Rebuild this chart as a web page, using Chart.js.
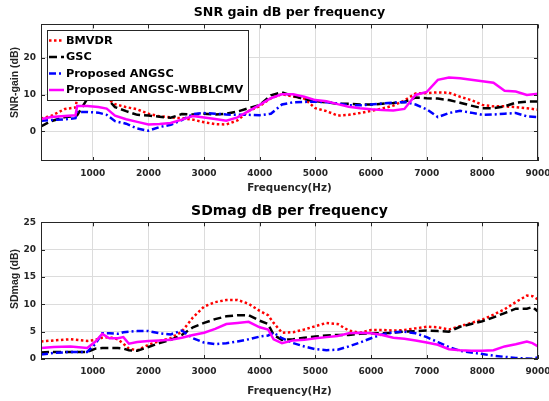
<!DOCTYPE html>
<html>
<head>
<meta charset="utf-8">
<script src="https://cdn.jsdelivr.net/npm/chart.js@4.4.1/dist/chart.umd.min.js"></script>
<style>
  html, body { margin: 0; padding: 0; background: #fff; overflow: hidden; }
  #top { position: absolute; left: 0; top: 0; width: 549px; height: 200px; }
  #bot { position: absolute; left: 0; top: 200px; width: 549px; height: 201px; }
</style>
</head>
<body>
<div id="top"><canvas id="snr" width="549" height="200"></canvas></div>
<div id="bot"><canvas id="sd" width="549" height="201"></canvas></div>
<script>
// ===== data =====
const seriesNames = ["BMVDR", "GSC", "Proposed ANGSC", "Proposed ANGSC-WBBLCMV"];
const freqTicks = [1000, 2000, 3000, 4000, 5000, 6000, 7000, 8000, 9000];
const snrTicks = [0, 10, 20];
const sdTicks = [0, 5, 10, 15, 20, 25];

// SNR gain (top)
const snrFreq = [70, 250, 500, 690, 720, 900, 1100, 1250, 1400,
  1600, 1800, 2000, 2200, 2400, 2600, 2800, 3000, 3200, 3400,
  3600, 3800, 4000, 4200, 4400, 4600, 4800, 5000, 5200, 5400,
  5600, 5800, 6000, 6200, 6400, 6600, 6800, 7000, 7200, 7400,
  7600, 7800, 8000, 8200, 8400, 8600, 8800, 9000];
const snrBmvdr = [3.5, 4.2, 6.1, 6.5, 9.0, 8.8, 9.2, 9.0, 7.4,
  6.6, 6.0, 4.8, 4.1, 3.8, 3.6, 3.2, 2.5, 2.0, 1.9,
  3.0, 5.5, 6.9, 9.0, 10.1, 9.5, 8.9, 6.3, 5.5, 4.3,
  4.5, 5.0, 5.6, 6.2, 7.0, 8.4, 10.3, 10.4, 10.6, 10.5,
  9.4, 8.5, 7.2, 6.8, 6.8, 6.6, 6.3, 5.9];
const snrGsc = [1.4, 2.8, 3.9, 4.2, 4.4, 8.8, 9.6, 9.0, 6.6,
  5.5, 4.5, 4.3, 4.0, 3.7, 4.7, 4.6, 4.8, 4.6, 4.8,
  5.4, 6.3, 7.2, 9.8, 10.6, 9.6, 8.8, 8.2, 7.9, 7.5,
  7.5, 7.3, 7.3, 7.5, 7.7, 8.0, 9.2, 9.0, 8.9, 8.5,
  7.8, 7.0, 6.3, 6.3, 6.8, 7.8, 8.1, 8.1];
const snrAngsc = [2.9, 3.1, 3.3, 3.6, 5.3, 5.3, 5.1, 4.5, 2.8,
  2.1, 0.8, 0.2, 1.2, 1.8, 3.1, 4.7, 5.0, 4.8, 4.6,
  4.5, 4.5, 4.4, 4.8, 7.3, 7.9, 8.0, 8.1, 7.9, 7.6,
  7.1, 7.1, 7.3, 7.6, 7.8, 8.0, 7.3, 6.0, 3.9, 5.0,
  5.6, 5.1, 4.5, 4.6, 4.8, 5.0, 4.1, 3.9];
const snrWbb = [3.3, 3.9, 4.2, 4.4, 6.9, 6.9, 6.6, 6.2, 4.3,
  3.3, 2.6, 1.9, 2.0, 2.3, 3.2, 4.2, 3.8, 3.4, 2.9,
  3.8, 5.5, 7.2, 9.0, 10.1, 10.1, 9.4, 8.5, 8.2, 7.4,
  6.7, 6.3, 6.0, 5.8, 5.7, 6.1, 9.9, 10.7, 14.0, 14.6,
  14.4, 14.0, 13.6, 13.2, 11.0, 10.8, 9.9, 10.2];

// SDmag (bottom)
const sdFreq = [70, 300, 600, 900, 1050, 1170, 1300, 1450, 1550, 1650, 1800,
  2000, 2200, 2400, 2600, 2800, 3000, 3200, 3400, 3600, 3800, 4000,
  4150, 4250,
  4400, 4600, 4800, 5000, 5200, 5400, 5600, 5800, 6000, 6200, 6400, 6600,
  6800, 7000, 7200, 7400, 7600, 7800, 8000, 8200, 8400, 8600, 8800,
  8900, 9000];
const sdBmvdr = [3.2, 3.4, 3.6, 3.3, 3.5, 3.9, 4.0, 3.6, 2.8, 1.9, 1.6,
  2.6, 3.3, 3.8, 5.0, 7.6, 9.6, 10.4, 10.8, 10.8, 10.1, 8.8,
  8.0, 6.6,
  4.8, 4.9, 5.4, 6.0, 6.6, 6.4, 5.2, 4.8, 5.3, 5.3, 5.2, 5.3,
  5.6, 5.9, 5.8, 5.4, 6.0, 6.6, 7.2, 8.1, 9.1, 10.4, 11.6,
  11.5, 10.9];
const sdGsc = [1.2, 1.3, 1.3, 1.3, 1.9, 2.0, 2.0, 2.0, 1.9, 1.6, 1.5,
  2.2, 2.9, 3.5, 4.4, 5.8, 6.6, 7.3, 7.8, 8.0, 8.0, 7.0,
  6.4, 4.4,
  3.5, 3.6, 3.9, 4.1, 4.3, 4.4, 4.4, 4.6, 4.7, 4.7, 4.8, 5.0,
  5.1, 5.2, 5.1, 5.0, 5.9, 6.4, 6.9, 7.6, 8.4, 9.2, 9.2,
  9.5, 8.7];
const sdAngsc = [0.8, 1.1, 1.3, 1.3, 2.8, 4.7, 4.7, 4.6, 4.9, 5.0, 5.1,
  5.1, 4.7, 4.5, 5.2, 3.8, 3.0, 2.7, 2.9, 3.2, 3.6, 4.1,
  4.3, 4.8,
  3.8, 2.9, 2.3, 1.8, 1.6, 1.7, 2.3, 3.0, 3.8, 4.5, 4.9, 5.0,
  4.7, 4.0, 3.1, 2.2, 1.5, 1.2, 0.9, 0.6, 0.4, 0.2, 0.1,
  0.05, 0.3];
const sdWbb = [2.0, 2.2, 2.3, 2.0, 3.2, 4.6, 3.8, 3.8, 4.0, 2.8, 3.1,
  3.3, 3.4, 3.5, 3.9, 4.4, 4.8, 5.5, 6.4, 6.6, 6.8, 5.8,
  5.4, 3.6,
  2.9, 3.4, 3.5, 3.8, 4.0, 4.2, 4.7, 4.8, 4.7, 4.4, 3.9, 3.7,
  3.4, 3.0, 2.6, 1.8, 1.6, 1.5, 1.5, 1.6, 2.3, 2.7, 3.2,
  2.9, 2.3];

// ===== styles =====
const colors = ["#ff0000", "#000000", "#0000ff", "#ff00ff"];
const dashes = [[2.5, 2.5], [8, 4], [7, 3, 2, 3], []];
const WIDE = "'DejaVu Sans', sans-serif";
const NARROW = "'Liberation Sans', Arial, sans-serif";
const INK = "#262626";

// axes box, inward ticks and the boxed legend
const boxPlugin = {
  id: "matlabBox",
  afterDraw(chart, args, opts) {
    const { ctx, chartArea: a, scales: { x, y } } = chart;
    ctx.save();
    ctx.strokeStyle = INK;
    ctx.lineWidth = 1;
    ctx.setLineDash([]);
    ctx.beginPath();
    x.ticks.forEach(t => {
      const px = Math.round(x.getPixelForValue(t.value)) + 0.5;
      ctx.moveTo(px, a.bottom); ctx.lineTo(px, a.bottom - 4);
      ctx.moveTo(px, a.top); ctx.lineTo(px, a.top + 4);
    });
    y.ticks.forEach(t => {
      const py = Math.round(y.getPixelForValue(t.value)) + 0.5;
      ctx.moveTo(a.left, py); ctx.lineTo(a.left + 4, py);
      ctx.moveTo(a.right, py); ctx.lineTo(a.right - 4, py);
    });
    ctx.stroke();
    ctx.strokeRect(Math.round(a.left) + 0.5, Math.round(a.top) + 0.5,
      Math.round(a.right - a.left) - 1, Math.round(a.bottom - a.top) - 1);

    const L = opts.legend;
    if (L) {
      ctx.fillStyle = "#fff";
      ctx.fillRect(L.x, L.y, L.w, L.h);
      ctx.strokeRect(L.x + 0.5, L.y + 0.5, L.w - 1, L.h - 1);
      chart.data.datasets.forEach((ds, i) => {
        const ry = L.y + L.first + i * L.row;
        ctx.strokeStyle = ds.borderColor;
        ctx.lineWidth = ds.borderWidth;
        ctx.setLineDash(ds.borderDash);
        ctx.beginPath();
        ctx.moveTo(L.x + 2, ry); ctx.lineTo(L.x + 17, ry);
        ctx.stroke();
        ctx.setLineDash([]);
        ctx.fillStyle = "#000";
        ctx.font = "bold 11.3px " + WIDE;
        ctx.textBaseline = "middle";
        ctx.textAlign = "left";
        ctx.fillText(ds.label, L.x + 19, ry + 0.5);
      });
    }
    ctx.restore();
  }
};

function makeChart(id, cfg) {
  const H = document.getElementById(id).height;
  const series = cfg.series;
  return new Chart(document.getElementById(id), {
    type: "line",
    data: {
      datasets: series.map((vals, i) => ({
        label: seriesNames[i],
        data: cfg.freq.map((f, j) => ({ x: f, y: vals[j] })),
        borderColor: colors[i],
        borderDash: dashes[i],
        borderWidth: 2.5,
        pointRadius: 0,
        tension: 0,
        fill: false,
        order: 4 - i
      }))
    },
    options: {
      responsive: false,
      animation: false,
      devicePixelRatio: 1,
      layout: { padding: { left: 0, right: 11, top: 0, bottom: 0 } },
      plugins: {
        legend: { display: false },
        tooltip: { enabled: false },
        title: {
          display: true, text: cfg.title, color: "#000", fullSize: false,
          font: { family: WIDE, size: cfg.titleSize, weight: "bold" },
          padding: cfg.titlePad
        },
        matlabBox: { legend: cfg.legend }
      },
      scales: {
        x: {
          type: "linear", min: 70, max: 9000,
          afterBuildTicks: s => { s.ticks = freqTicks.map(v => ({ value: v })); },
          afterFit: s => { s.height = H - cfg.areaBottom; s.paddingLeft = 0; s.paddingRight = 0; },
          grid: { color: "#dcdcdc", drawTicks: false },
          border: { display: false },
          ticks: {
            color: INK, font: { family: WIDE, size: 9, weight: "bold" },
            padding: cfg.xTickPad, maxRotation: 0, autoSkip: false,
            callback: v => String(v)
          },
          title: {
            display: true, text: "Frequency(Hz)", color: INK,
            font: { family: WIDE, size: 10.3, weight: "bold" },
            padding: { top: 0, bottom: cfg.xTitlePad }
          }
        },
        y: {
          type: "linear", min: cfg.yMin, max: cfg.yMax,
          afterBuildTicks: s => { s.ticks = cfg.yTicks.map(v => ({ value: v })); },
          afterFit: s => { s.width = 41; s.paddingTop = 0; s.paddingBottom = 0; },
          grid: { color: "#dcdcdc", drawTicks: false },
          border: { display: false },
          ticks: {
            color: INK, font: { family: WIDE, size: 9, weight: "bold" },
            padding: 5, callback: v => String(v)
          },
          title: {
            display: true, text: cfg.yLabel, color: INK,
            font: { family: NARROW, size: 10.5, weight: "bold" },
            padding: { top: 9, bottom: 0 }
          }
        }
      }
    },
    plugins: [boxPlugin]
  });
}

makeChart("snr", {
  freq: snrFreq,
  series: [snrBmvdr, snrGsc, snrAngsc, snrWbb],
  title: "SNR gain dB per frequency", titleSize: 12.6, titlePad: { top: 5, bottom: 4.3 },
  yLabel: "       SNR-gain (dB)", yMin: -8, yMax: 29, yTicks: snrTicks,
  areaBottom: 161, xTickPad: 7, xTitlePad: 5.4,
  legend: { x: 47, y: 30, w: 202, h: 71, first: 10.5, row: 16.5 }
});

makeChart("sd", {
  freq: sdFreq,
  series: [sdBmvdr, sdGsc, sdAngsc, sdWbb],
  title: "SDmag dB per frequency", titleSize: 14, titlePad: { top: 2.6, bottom: 2.9 },
  yLabel: "        SDmag (dB)", yMin: 0, yMax: 25, yTicks: sdTicks,
  areaBottom: 159, xTickPad: 7.5, xTitlePad: 3.8,
  legend: null
});
</script>
</body>
</html>
